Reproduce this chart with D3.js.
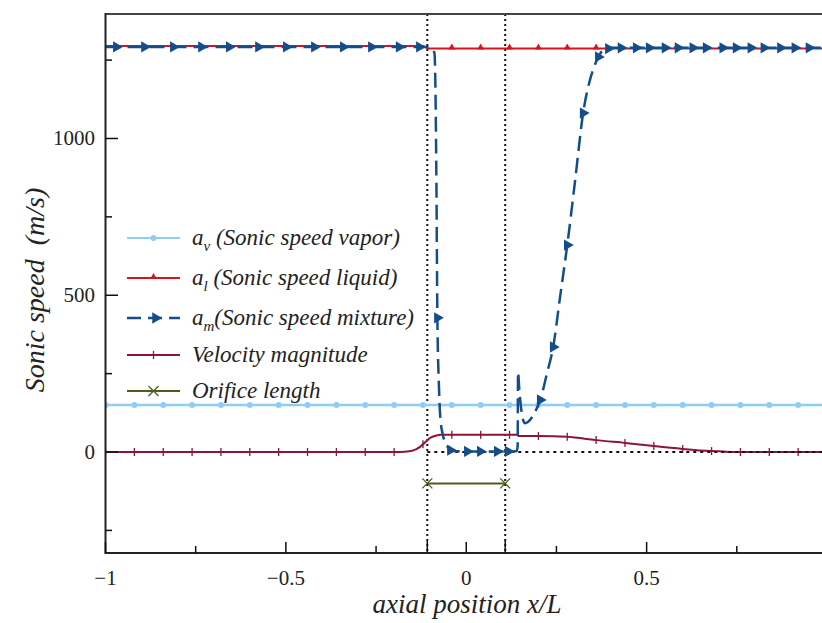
<!DOCTYPE html>
<html><head><meta charset="utf-8">
<script src="https://cdn.jsdelivr.net/npm/d3@7"></script>
<style>body{margin:0;background:#fff}svg{display:block}</style>
</head><body>
<svg id="c" width="822" height="623"></svg>
<script>
// ---- data ----
const xTicks = [-1, -0.5, 0, 0.5];
const xTickLabels = ["\u22121", "\u22120.5", "0", "0.5"];
const xMinorTicks = [-0.75, -0.25, 0.25, 0.75];
const yTicks = [0, 500, 1000];
const yMinorTicks = [-250, 250, 750, 1250];
const orificeEdges = [-0.108, 0.108];

const gridMarkX = d3.range(0, 26).map(k => -1 + 0.08 * k);

// liquid sonic speed
const alX = [-1, -0.12, -0.105, 1];
const alY = [1295, 1295, 1287, 1287];
const alMarkX = [-0.04, 0.04, 0.12, 0.2, 0.28, 0.36];
// vapor sonic speed
const avX = [-1, 1];
const avY = [150, 150];
// mixture sonic speed
const amX = [-1, -0.5, -0.11, -0.095, -0.088, -0.086, -0.083, -0.080, -0.076, -0.072, -0.066, -0.06, -0.055, -0.05, -0.044, -0.035, 0, 0.13, 0.140, 0.1425, 0.1435, 0.147, 0.152, 0.157, 0.163, 0.17, 0.183, 0.195, 0.205, 0.224, 0.241, 0.26, 0.28, 0.302, 0.324, 0.343, 0.355, 0.366, 0.38, 0.4, 1];
const amY = [1292, 1292, 1292, 1288, 1270, 1200, 900, 428, 220, 112, 60, 35, 22, 14, 6, 3, 2, 2, 3, 20, 255, 200, 140, 105, 92, 95, 112, 138, 166, 252, 335, 494, 660, 868, 1081, 1187, 1230, 1260, 1282, 1289, 1289];
const amMarkX = [-0.970, -0.892, -0.812, -0.734, -0.657, -0.576, -0.499, -0.421, -0.341, -0.263, -0.186, -0.130, -0.080, -0.044, 0.003, 0.039, 0.086, 0.116, 0.205, 0.241, 0.280, 0.324, 0.366, 0.394, 0.429, 0.471, 0.507, 0.551, 0.587, 0.628, 0.665, 0.711, 0.748, 0.789, 0.825, 0.871, 0.911, 0.950];
// velocity magnitude
const velX = [-1, -0.2, -0.17, -0.15, -0.13, -0.115, -0.1, -0.085, -0.07, -0.05, 0, 0.14, 0.145, 0.2, 0.28, 0.32, 0.36, 0.44, 0.52, 0.6, 0.68, 0.72, 0.76, 1];
const velY = [0, 0, 1, 4, 15, 30, 45, 52, 55, 55, 55, 55, 51, 51, 49, 44, 38, 29, 19, 10, 3, 1, 0, 0];
// orifice length
const orX = [-0.108, 0.108];
const orY = [-100, -100];

const legendLabels = [
  {main: "a", sub: "v", rest: " (Sonic speed vapor)"},
  {main: "a", sub: "l", rest: " (Sonic speed liquid)"},
  {main: "a", sub: "m", rest: "(Sonic speed mixture)"},
  {main: "Velocity magnitude", sub: "", rest: ""},
  {main: "Orifice length", sub: "", rest: ""}
];

// ---- styles ----
const C = {av: "#8fcdf7", al: "#d9121f", am: "#144c8c", vel: "#8c1538", or: "#4a5e1e"};

const svg = d3.select("#c");
const x = d3.scaleLinear().domain([-1, 1]).range([105.5, 827]);
const y = d3.scaleLinear().domain([-322, 1397]).range([553, 14]);

const zip = (xs, ys) => xs.map((v, i) => [v, ys[i]]);
const interp = (xs, ys) => v => {
  for (let i = 0; i < xs.length - 1; i++) if (v >= xs[i] && v <= xs[i + 1]) {
    const t = (v - xs[i]) / (xs[i + 1] - xs[i]); return ys[i] + t * (ys[i + 1] - ys[i]);
  }
  return ys[ys.length - 1];
};
const line = d3.line().x(d => x(d[0])).y(d => y(d[1])).curve(d3.curveMonotoneX);
const serif = "Liberation Serif, Times New Roman, Times, serif";

const plot = svg.append("g");
svg.append("defs").append("clipPath").attr("id", "clip").append("rect")
  .attr("x", 105.5).attr("y", 14).attr("width", 722).attr("height", 539);
const g = plot.append("g").attr("clip-path", "url(#clip)");

// dotted reference lines
orificeEdges.forEach(e => g.append("line").attr("x1", x(e)).attr("x2", x(e)).attr("y1", y(1397)).attr("y2", y(-322))
  .attr("stroke", "#111").attr("stroke-width", 2).attr("stroke-dasharray", "2,3"));

// vapor
g.append("path").attr("d", line(zip(avX, avY))).attr("fill", "none").attr("stroke", C.av).attr("stroke-width", 2.5);
gridMarkX.forEach(v => g.append("circle").attr("cx", x(v)).attr("cy", y(interp(avX, avY)(v))).attr("r", 3).attr("fill", C.av));

// velocity
g.append("path").attr("d", line(zip(velX, velY))).attr("fill", "none").attr("stroke", C.vel).attr("stroke-width", 2);
const velF = interp(velX, velY);
gridMarkX.forEach(v => g.append("line").attr("x1", x(v)).attr("x2", x(v)).attr("y1", y(velF(v)) - 4).attr("y2", y(velF(v)) + 4).attr("stroke", C.vel).attr("stroke-width", 1.3));

// zero dotted line
g.append("line").attr("x1", x(-0.108)).attr("x2", x(1)).attr("y1", y(0)).attr("y2", y(0))
  .attr("stroke", "#111").attr("stroke-width", 2).attr("stroke-dasharray", "3,4");

// liquid
g.append("path").attr("d", d3.line().x(d => x(d[0])).y(d => y(d[1]))(zip(alX, alY))).attr("fill", "none").attr("stroke", C.al).attr("stroke-width", 2.2);
const alF = interp(alX, alY);
const tri = d3.symbol().type(d3.symbolTriangle).size(20);
alMarkX.forEach(v => g.append("path").attr("d", tri()).attr("transform", `translate(${x(v)},${y(alF(v)) - 1})`).attr("fill", C.al));

// mixture
g.append("path").attr("d", line(zip(amX, amY))).attr("fill", "none").attr("stroke", C.am).attr("stroke-width", 2.5).attr("stroke-dasharray", "15,7");
const amF = interp(amX, amY);
const triR = d3.symbol().type(d3.symbolTriangle).size(55);
amMarkX.forEach(v => g.append("path").attr("d", triR()).attr("transform", `translate(${x(v)},${y(amF(v))}) rotate(90)`).attr("fill", C.am));

// orifice
g.append("path").attr("d", d3.line().x(d => x(d[0])).y(d => y(d[1]))(zip(orX, orY))).attr("fill", "none").attr("stroke", C.or).attr("stroke-width", 2);
zip(orX, orY).forEach(p => {
  const cx = x(p[0]), cy = y(p[1]);
  g.append("path").attr("d", `M${cx - 5},${cy - 5}L${cx + 5},${cy + 5}M${cx - 5},${cy + 5}L${cx + 5},${cy - 5}`).attr("stroke", C.or).attr("stroke-width", 1.3);
});

// ---- axes frame ----
const ax = svg.append("g");
ax.append("line").attr("x1", 105.5).attr("x2", 827).attr("y1", 14).attr("y2", 14).attr("stroke", "#444").attr("stroke-width", 2);
ax.append("line").attr("x1", 105.5).attr("x2", 827).attr("y1", 553).attr("y2", 553).attr("stroke", "#222").attr("stroke-width", 2);
ax.append("line").attr("x1", 105.5).attr("x2", 105.5).attr("y1", 13).attr("y2", 554).attr("stroke", "#222").attr("stroke-width", 2);

// x ticks (inward)
xTicks.forEach((t, i) => {
  ax.append("line").attr("x1", x(t)).attr("x2", x(t)).attr("y1", 553).attr("y2", 542).attr("stroke", "#111").attr("stroke-width", 1.5);
  ax.append("text").attr("x", x(t)).attr("y", 585).attr("text-anchor", "middle").attr("font-family", serif).attr("font-size", 21).attr("fill", "#222").text(xTickLabels[i]);
});
xMinorTicks.forEach(t => ax.append("line").attr("x1", x(t)).attr("x2", x(t)).attr("y1", 553).attr("y2", 546).attr("stroke", "#111").attr("stroke-width", 1.5));
orificeEdges.forEach(t => ax.append("line").attr("x1", x(t)).attr("x2", x(t)).attr("y1", 553).attr("y2", 541).attr("stroke", "#111").attr("stroke-width", 1.5));

// y ticks
yTicks.forEach(t => {
  ax.append("line").attr("x1", 105.5).attr("x2", 118).attr("y1", y(t)).attr("y2", y(t)).attr("stroke", "#111").attr("stroke-width", 1.5);
  ax.append("text").attr("x", 95).attr("y", y(t) + 7).attr("text-anchor", "end").attr("font-family", serif).attr("font-size", 21).attr("fill", "#222").text(t);
});
yMinorTicks.forEach(t => ax.append("line").attr("x1", 105.5).attr("x2", 112).attr("y1", y(t)).attr("y2", y(t)).attr("stroke", "#111").attr("stroke-width", 1.5));

// axis titles
svg.append("text").attr("x", 467).attr("y", 613).attr("text-anchor", "middle").attr("font-family", serif).attr("font-style", "italic").attr("font-size", 27).attr("fill", "#222").text("axial position x/L");
svg.append("text").attr("transform", "translate(44,290) rotate(-90)").attr("text-anchor", "middle").attr("font-family", serif).attr("font-style", "italic").attr("font-size", 28).attr("fill", "#222").attr("xml:space", "preserve").text("Sonic speed  (m/s)");

// ---- legend ----
const legY = [238, 278, 318, 355, 391];
const lg = svg.append("g");
legendLabels.forEach((L, i) => {
  const yy = legY[i];
  const key = ["av", "al", "am", "vel", "or"][i];
  const ln = lg.append("line").attr("x1", 127).attr("x2", 180).attr("y1", yy).attr("y2", yy).attr("stroke", C[key]).attr("stroke-width", key === "am" ? 2.5 : 2);
  if (key === "am") ln.attr("stroke-dasharray", "14,7").attr("stroke-dashoffset", 0);
  const cx = 153.5;
  if (key === "av") lg.append("circle").attr("cx", cx).attr("cy", yy).attr("r", 3).attr("fill", C.av);
  if (key === "al") lg.append("path").attr("d", tri()).attr("transform", `translate(${cx},${yy - 1})`).attr("fill", C.al);
  if (key === "am") lg.append("path").attr("d", triR()).attr("transform", `translate(${cx + 2},${yy}) rotate(90)`).attr("fill", C.am);
  if (key === "vel") lg.append("line").attr("x1", cx).attr("x2", cx).attr("y1", yy - 4).attr("y2", yy + 4).attr("stroke", C.vel).attr("stroke-width", 1.3);
  if (key === "or") lg.append("path").attr("d", `M${cx - 5},${yy - 5}L${cx + 5},${yy + 5}M${cx - 5},${yy + 5}L${cx + 5},${yy - 5}`).attr("stroke", C.or).attr("stroke-width", 1.3);
  const t = lg.append("text").attr("x", 192).attr("y", yy + 7).attr("font-family", serif).attr("font-style", "italic").attr("font-size", 23).attr("fill", "#222").attr("xml:space", "preserve");
  t.append("tspan").text(L.main);
  if (L.sub) {
    t.append("tspan").attr("dy", 6).attr("font-size", 15).text(L.sub);
    t.append("tspan").attr("dy", -6).text(L.rest);
  }
});
</script>
</body></html>
